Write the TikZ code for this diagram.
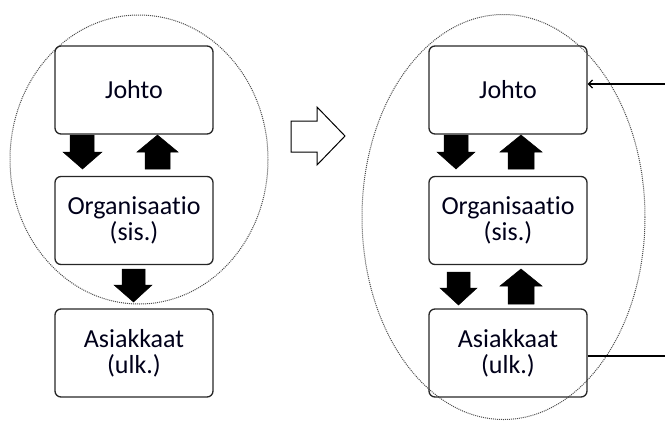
\documentclass[tikz,border=0pt]{standalone}
\usepackage{fontspec}
\setmainfont{Carlito}[Ligatures=NoCommon]
\usetikzlibrary{arrows.meta}
\begin{document}
\begin{tikzpicture}[x=1pt,y=-1pt,
  box/.style={draw=black!85,line width=1.3pt,rounded corners=6pt,minimum width=158pt,minimum height=88pt,
    align=center,inner sep=0pt,font=\fontsize{26}{26}\selectfont,text=black!90!blue},
  grp/.style={draw=black!70,densely dotted,line width=1pt},
  blk/.style={fill=black,draw=black,line width=0.5pt},
  link/.style={draw=black,line width=1.3pt}]
\useasboundingbox (0,0) rectangle (665,424);
% left panel
\draw[grp] (139,159.5) ellipse [x radius=129, y radius=144.5];
\node[box] (j1) at (134,90) {Johto};
\node[box] (o1) at (134,220.5) {Organisaatio\\(sis.)};
\node[box] (a1) at (134,353) {Asiakkaat\\(ulk.)};
% block arrows left
\path[blk] (70,135) -- (94,135) -- (94,152) -- (102,152) -- (82.5,169) -- (63,152) -- (70,152) -- cycle;
\path[blk] (145,169) -- (170,169) -- (170,152) -- (178,152) -- (157.5,135) -- (137,152) -- (145,152) -- cycle;
\path[blk] (122,269) -- (145,269) -- (145,285) -- (152,285) -- (133.5,302) -- (114,285) -- (122,285) -- cycle;
% hollow arrow
\draw[line width=1pt,fill=white] (291,121) -- (317,121) -- (317,107) -- (345,136) -- (317,165) -- (317,152) -- (291,152) -- cycle;
% right panel
\draw[grp] (503.5,217) ellipse [x radius=141.5, y radius=202.5];
\node[box] (j2) at (508,90) {Johto};
\node[box] (o2) at (508,220.5) {Organisaatio\\(sis.)};
\node[box] (a2) at (508,353) {Asiakkaat\\(ulk.)};
\path[blk] (444,135) -- (468,135) -- (468,152) -- (475,152) -- (456,169) -- (437,152) -- (444,152) -- cycle;
\path[blk] (508,169) -- (534,169) -- (534,152) -- (542,152) -- (521,135) -- (500,152) -- (508,152) -- cycle;
\path[blk] (447,272) -- (470,272) -- (470,288) -- (477,288) -- (458.5,305) -- (440,288) -- (447,288) -- cycle;
\path[blk] (508,304) -- (534,304) -- (534,286) -- (542,286) -- (521,269) -- (500,286) -- (508,286) -- cycle;
% connectors
\coordinate (inR) at (665,84);
\coordinate (outR) at (665,356);
\draw[link,-{Straight Barb[length=4pt,width=8pt]}] (inR) -- (j2.east |- inR);
\draw[link] (a2.east |- outR) -- (outR);
\end{tikzpicture}
\end{document}
